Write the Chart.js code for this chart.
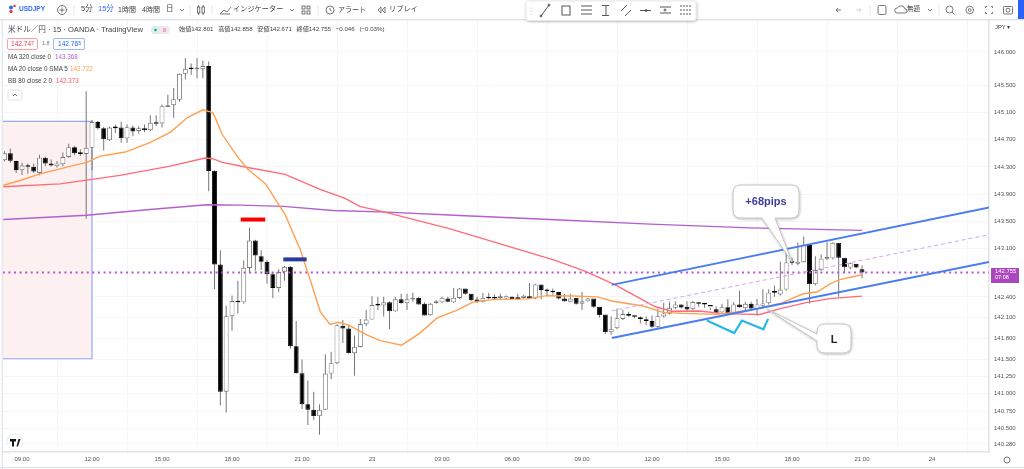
<!DOCTYPE html>
<html lang="ja"><head><meta charset="utf-8">
<script src="https://cdn.jsdelivr.net/npm/chart.js@4"></script>
<style>
html,body{margin:0;padding:0;background:#fff;width:1024px;height:469px;overflow:hidden}
body{font-family:"Liberation Sans","Noto Sans CJK JP",sans-serif;color:#333;position:relative}
#c{position:absolute;left:0;top:0}
.t{position:absolute;white-space:nowrap;line-height:1}
svg.o{position:absolute;left:0;top:0;pointer-events:none}
</style></head><body>
<canvas id="c" width="1024" height="469"></canvas>
<script>
// --- axis labels ---
const priceTicks=[146,145.5,145.1,144.7,144.3,143.9,143.5,143.1,142.4,142.1,141.8,141.5,141.25,141,140.75,140.5,140.28];
const timeTickIndex=[0,12,24,36,48,60,72,84,96,108,120,132,144,156];
const timeTickLabels=["09:00","12:00","15:00","18:00","21:00","23","03:00","06:00","09:00","12:00","15:00","18:00","21:00","24"];
// --- 15 minute candles, first one is three bars before 09:00 ---
const firstBar=-3;
const opens=[144.40,144.50,144.385,144.25,144.32,144.30,144.21,144.435,144.35,144.31,
144.34,144.445,144.59,144.50,144.49,144.58,144.96,144.87,144.695,144.88,
144.88,144.72,144.88,144.83,144.87,144.84,144.95,144.94,145.185,145.21,
145.29,145.675,145.75,145.745,145.745,145.79,144.24,142.87,141.03,142.12,
142.34,142.32,142.82,143.22,142.99,142.91,142.73,142.53,142.765,142.835,
141.685,141.295,140.85,140.77,140.68,140.77,141.29,141.44,141.98,141.94,
141.585,141.675,142.005,142.07,142.28,142.275,142.32,142.19,142.365,142.31,
142.36,142.385,142.30,142.135,142.31,142.32,142.375,142.32,142.385,142.52,
142.445,142.36,142.33,142.385,142.38,142.385,142.375,142.40,142.395,142.385,
142.41,142.375,142.58,142.505,142.485,142.47,142.375,142.33,142.385,142.30,
142.335,142.375,142.255,142.145,141.89,141.945,142.08,142.15,142.13,142.10,
142.075,142.05,141.96,142.115,142.155,142.24,142.29,142.255,142.22,142.32,
142.305,142.28,142.22,142.175,142.25,142.16,142.29,142.235,142.30,142.225,
142.27,142.31,142.465,142.435,142.505,142.90,142.88,142.905,143.155,142.585,
142.79,142.955,142.96,143.185,142.97,142.825,142.88,142.801];
const highs=[144.53,144.57,144.39,144.36,144.35,144.35,144.48,144.45,144.41,144.385,
144.51,144.64,144.605,144.56,145.415,144.99,144.975,144.89,144.89,144.925,
144.965,144.925,144.91,144.90,144.925,145.06,145.06,145.22,145.365,145.465,
145.68,145.91,145.83,145.91,145.87,145.86,144.25,143.08,142.27,142.42,
142.635,142.93,143.41,143.23,143.08,142.935,142.76,142.80,142.85,142.85,
142.05,141.495,141.19,141.03,140.85,141.57,141.605,142.00,142.065,141.985,
141.84,142.08,142.21,142.41,142.40,142.40,142.335,142.40,142.445,142.445,
142.46,142.40,142.32,142.31,142.35,142.40,142.40,142.53,142.53,142.48,
142.385,142.40,142.455,142.455,142.43,142.445,142.42,142.41,142.445,142.43,
142.60,142.59,142.54,142.52,142.52,142.445,142.445,142.445,142.35,142.47,
142.385,142.27,142.16,141.995,142.115,142.23,142.21,142.185,142.125,142.115,
142.115,142.13,142.23,142.315,142.33,142.335,142.29,142.335,142.335,142.325,
142.30,142.24,142.26,142.30,142.365,142.32,142.49,142.33,142.33,142.37,
142.51,142.51,142.565,142.91,143.04,142.97,143.19,143.28,142.875,142.99,
143.015,143.195,143.195,143.055,142.92,142.90,142.858,142.858];
const lows=[144.38,144.36,144.21,144.18,144.20,144.21,144.175,144.31,144.31,144.29,
144.31,144.435,144.47,144.46,143.54,144.25,144.85,144.54,144.68,144.80,
144.655,144.655,144.75,144.79,144.81,144.83,144.90,144.88,145.185,145.025,
145.26,145.59,145.66,145.61,145.61,143.94,142.51,140.83,140.73,141.91,
142.16,142.30,142.745,142.78,142.79,142.59,142.385,142.47,142.635,141.65,
141.29,140.78,140.55,140.625,140.41,140.77,141.21,141.425,141.73,141.58,
141.26,141.67,141.975,142.07,142.21,142.115,141.935,142.185,142.30,142.21,
142.33,142.29,142.13,142.125,142.30,142.31,142.32,142.31,142.37,142.435,
142.34,142.31,142.32,142.36,142.355,142.365,142.365,142.36,142.36,142.375,
142.365,142.365,142.365,142.42,142.43,142.36,142.33,142.32,142.285,142.21,
142.33,142.24,142.10,141.86,141.85,141.93,142.065,142.11,142.09,142.015,
141.99,141.95,141.95,142.10,142.145,142.22,142.23,142.19,142.205,142.255,
142.24,142.21,142.16,142.16,142.145,142.145,142.24,142.21,142.21,142.13,
142.23,142.29,142.40,142.42,142.49,142.86,142.86,142.90,142.30,142.565,
142.78,142.935,142.945,142.40,142.745,142.80,142.815,142.671];
const closes=[144.50,144.39,144.25,144.32,144.30,144.23,144.435,144.35,144.32,144.35,
144.445,144.59,144.50,144.49,144.58,144.96,144.87,144.705,144.88,144.87,
144.72,144.885,144.82,144.87,144.84,144.95,144.935,145.195,145.21,145.30,
145.675,145.75,145.745,145.75,145.79,144.24,142.87,141.03,142.12,142.34,
142.32,142.82,143.22,143.00,142.91,142.73,142.53,142.76,142.835,141.685,
141.295,140.85,140.77,140.68,140.77,141.29,141.44,141.99,141.94,141.585,
141.675,142.005,142.07,142.28,142.275,142.32,142.19,142.365,142.31,142.365,
142.385,142.29,142.13,142.30,142.335,142.385,142.33,142.385,142.52,142.445,
142.35,142.32,142.385,142.38,142.375,142.39,142.41,142.37,142.37,142.415,
142.375,142.58,142.50,142.485,142.465,142.375,142.335,142.375,142.30,142.335,
142.375,142.255,142.135,141.89,141.935,142.09,142.15,142.125,142.11,142.08,
142.05,141.965,142.12,142.16,142.24,142.29,142.245,142.215,142.325,142.30,
142.29,142.26,142.17,142.25,142.155,142.29,142.25,142.30,142.23,142.29,
142.305,142.46,142.46,142.505,142.90,142.895,142.91,143.155,142.585,142.79,
142.955,142.96,143.185,142.97,142.83,142.89,142.825,142.755];
// --- indicators ---
const ma320Index=[-3.2,11.1,21.9,31.7,37.4,44.8,53.3,62.6,75,90.5,107.7,124.8,144];
const ma320Value=[143.527,143.59,143.674,143.743,143.738,143.72,143.66,143.635,143.586,143.527,143.46,143.405,143.368];
const ma20Index=[-3.2,-0.3,3.1,8.2,11.1,13.4,17.7,21.9,25.4,28.3,31,32.7,33.1,34.3,36.9,38.7,41.7,45.1,47.7,49.9,51.1,52.8,54.2,55.9,59.1,61.4,65.1,68.2,71.1,74.6,77.3,80.7,86.6,90,94.5,98.6,101.3,106.5,109.9,113.3,119.1,121.9,126,130,133.9,136.3,138.5,140.2,144];
const ma20Value=[144.03,144.10,144.197,144.307,144.366,144.459,144.518,144.656,144.808,145.024,145.142,145.10,145.03,144.78,144.454,144.263,144.057,143.60,143.087,142.517,142.19,142.0,142.032,141.994,141.85,141.765,141.70,141.875,142.09,142.207,142.323,142.36,142.37,142.417,142.413,142.40,142.336,142.267,142.175,142.16,142.146,142.175,142.225,142.303,142.445,142.47,142.588,142.65,142.722];
const bbIndex=[-3.2,6.5,11.1,16.8,25.4,31.4,32.7,34.3,38.7,45.1,51.1,55.4,57.9,62.2,73.4,91.4,96.5,101.7,108.5,111.4,116.2,119.7,123.6,126.5,130,134.6,138.5,144];
const bbValue=[144.008,144.05,144.105,144.175,144.31,144.43,144.42,144.366,144.29,144.19,143.97,143.836,143.72,143.635,143.39,142.93,142.775,142.575,142.26,142.19,142.195,142.16,142.15,142.145,142.23,142.32,142.375,142.41];
// --- drawn objects ---
const lastPrice=142.755;
const channelIndex=[101.1,165.8];
const channelUpper=[142.574,143.704];
const channelMiddle=[142.196,143.306];
const channelLower=[141.804,142.906];
const redMarkIndex=[37.5,41.7],redMarkValue=[143.527,143.527];
const blueMarkIndex=[44.8,48.8],blueMarkValue=[142.945,142.945];
const zigzagIndex=[117.4,122.1,123.4,127.1,127.9];
const zigzagValue=[142.056,141.875,142.056,141.93,142.08];
const boxIndex=[-3.3,12];
const boxValue=[144.97,141.504];

const xy=(a,b)=>a.map((v,i)=>({x:v,y:b[i]}));
const line=(a,b,color,width,order,extra)=>Object.assign({type:'line',data:xy(a,b),borderColor:color,borderWidth:width,pointRadius:0,tension:0,order,borderCapStyle:'butt',parsing:true},extra||{});
const wicks=opens.map((o,i)=>({x:firstBar+i,y:[lows[i],highs[i]]}));
const bodies=opens.map((o,i)=>({x:firstBar+i,y:[Math.min(o,closes[i]),Math.max(o,closes[i])]}));
const isUp=opens.map((o,i)=>closes[i]>o);

const boxPlugin={id:'box',beforeDatasetsDraw(ch){
  const {ctx,scales:{x,y}}=ch;
  const l=x.getPixelForValue(boxIndex[0]),r=x.getPixelForValue(boxIndex[1]);
  const t=y.getPixelForValue(boxValue[0]),b=y.getPixelForValue(boxValue[1]);
  ctx.save();ctx.fillStyle='#fdf0f0';ctx.fillRect(l,t,r-l,b-t);
  ctx.strokeStyle='#93aaf7';ctx.lineWidth=1.2;ctx.beginPath();ctx.moveTo(l,t);ctx.lineTo(r,t);ctx.lineTo(r,b);ctx.lineTo(l,b);ctx.stroke();ctx.restore();
}};

new Chart(document.getElementById('c'),{
 type:'bar',
 data:{datasets:[
  line(channelIndex,channelUpper,'#4a7cf5',2,1),
  line(channelIndex,channelLower,'#4a7cf5',2,1),
  line(channelIndex,channelMiddle,'#cda8e8',1,1,{borderDash:[4,3]}),
  line(zigzagIndex,zigzagValue,'#29b6e8',2.2,1),
  line(redMarkIndex,redMarkValue,'#ff0000',4,1),
  line(blueMarkIndex,blueMarkValue,'#2b3a9c',4,1),
  line(ma20Index,ma20Value,'#ff9f50',1.4,3),
  line(bbIndex,bbValue,'#ff6b78',1.4,4),
  line(ma320Index,ma320Value,'#b35fd0',1.4,5),
  line([-3.3,165.8],[lastPrice,lastPrice],'#b455cf',2,6,{borderDash:[2,3.6]}),
  {data:bodies,order:8,barThickness:4.9,grouped:false,minBarLength:1.6,inflateAmount:0,borderSkipped:false,borderWidth:0.9,
   backgroundColor:isUp.map(u=>u?'#ffffff':'#000000'),borderColor:isUp.map(u=>u?'#777777':'#000000')},
  {data:wicks,order:9,barThickness:1,grouped:false,inflateAmount:0,borderSkipped:false,borderWidth:0,backgroundColor:'#777777'}
 ]},
 options:{
  responsive:false,animation:false,
  layout:{padding:{top:20,left:3,right:0,bottom:0}},
  plugins:{legend:{display:false},tooltip:{enabled:false}},
  scales:{
   x:{type:'linear',min:-3.26,max:165.77,offset:false,
      afterFit(s){s.height=17},
      afterBuildTicks(s){s.ticks=timeTickIndex.map(v=>({value:v}))},
      grid:{color:'#f6f6f8',lineWidth:1,drawTicks:false},border:{color:'#e0e3eb',width:1.5},
      ticks:{autoSkip:false,maxRotation:0,minRotation:0,padding:4,color:'#555',font:{size:6,family:'"Liberation Sans"'},
        callback(v){const k=timeTickIndex.indexOf(v);return k<0?'':timeTickLabels[k]}}},
   y:{type:'logarithmic',position:'right',min:140.165,max:146.477,
      afterFit(s){s.width=35},
      afterBuildTicks(s){s.ticks=priceTicks.map(v=>({value:v}))},
      grid:{color:'#f6f6f8',lineWidth:1,drawTicks:false},border:{color:'#e0e3eb',width:1.5},
      ticks:{autoSkip:false,padding:5,color:'#555',font:{size:6,family:'"Liberation Sans"'},
        callback(v){return Number(v).toFixed(3)}}}
  }
 },
 plugins:[boxPlugin]
});

// --- chrome text ---
const T=(x,y,s,size,color,extra)=>{const d=document.createElement('div');d.className='t';d.innerHTML=s;d.style.cssText=`left:${x}px;top:${y-size/2-0.5}px;font-size:${size}px;color:${color||'#444'};${extra||''}`;document.body.appendChild(d);return d};
T(19,9.5,'USDJPY',6.5,'#2f6bf0','font-weight:bold');
T(81,9.5,'5分',7.5,'#444');T(98,9.5,'15分',7.5,'#2f6bf0');T(118,9.5,'1時間',7,'#444');T(142,9.5,'4時間',7,'#444');T(166,9.5,'日',7.5,'#444');
T(233,9.5,'インジケーター',7.2,'#444');T(338,9.5,'アラート',7,'#444');T(389,9.5,'リプレイ',7.2,'#444');T(907,9.5,'無題',6.5,'#444');
T(8,30,'米ドル／円 · 15 · OANDA · TradingView',7.6,'#444');
T(179,29.5,'始値142.801 高値142.858 安値142.671 終値142.755 −0.046 (−0.03%)',6.15,'#444','word-spacing:3px');
T(11,44.5,'142.74<span style="font-size:5px;vertical-align:1px">7</span>',6.6,'#f23645');T(42,44.5,'1.8',5.5,'#777');T(58,44.5,'142.76<span style="font-size:5px;vertical-align:1px">5</span>',6.6,'#2962ff');
T(8,58,'MA 320 close 0',6.3,'#444');T(55,58,'143.368',6.3,'#b35fd0');
T(8,70,'MA 20 close 0 SMA 5',6.3,'#444');T(70,70,'142.722',6.3,'#ff9f50');
T(8,82,'BB 80 close 2 0',6.3,'#444');T(56,82,'142.373',6.3,'#f5596a');
T(995,28,'JPY ▾',5.8,'#444');
T(995,272.5,'142.755',5.9,'#fff');T(995,278.5,'07:08',5.5,'#fff');
</script>
<div style="position:absolute;left:990.5px;top:267.5px;width:28px;height:15px;background:#ab47bc"></div>
<svg class="o" width="1024" height="469" viewBox="0 0 1024 469" style="z-index:1">
 <defs><filter id="sh" x="-30%" y="-30%" width="160%" height="160%"><feDropShadow dx="0.5" dy="0.8" stdDeviation="1" flood-color="#000" flood-opacity=".3"/></filter></defs>
 <!-- frame -->
 <rect x="0" y="0" width="1024" height="19" fill="#fff"/>
 <rect x="0" y="19" width="1024" height="1.4" fill="#e0e3eb"/>
 <rect x="1.6" y="20" width="1.2" height="449" fill="#e0e3eb"/>
 <rect x="0" y="467" width="1024" height="1.2" fill="#e0e3eb"/>
 <rect x="1018" y="0" width="6" height="19" fill="#2962ff"/>
 <!-- logo + top icons -->
 <circle cx="11" cy="7.5" r="2" fill="#2f6bf0"/><circle cx="14.5" cy="6" r="1.3" fill="#e0414f"/><circle cx="11" cy="11.5" r="1.7" fill="#e0414f"/>
 <g fill="none" stroke="#555" stroke-width=".8">
  <circle cx="62" cy="10" r="4.5"/><path d="M59.5 10h5M62 7.5v5"/>
  <path d="M180 9l2 2 2-2"/><path d="M290 9l2 2 2-2"/><path d="M928 9l2 2 2-2"/>
  <rect x="197.5" y="7" width="2.3" height="6"/><rect x="202" y="7" width="2.3" height="6"/><path d="M198.6 5v2M198.6 13v2M203.1 5v2M203.1 13v2"/>
  <path d="M220 14l4-4 3 2 4-5M220 14h10"/>
  <rect x="302" y="6" width="3" height="3"/><rect x="307" y="6" width="3" height="3"/><rect x="302" y="11" width="3" height="3"/><rect x="307" y="11" width="3" height="3"/>
  <circle cx="330" cy="10" r="4"/><path d="M330 8v2l1.5 1"/>
  <path d="M381 7l-3 3 3 3zM385 7l-3 3 3 3z"/>
  <path d="M836 10l2-2M836 10l2 2M836 10h5"/><path d="M861 10l-2-2M861 10l-2 2M861 10h-5" stroke="#ccc"/>
  <rect x="878" y="5.5" width="8" height="9" rx="1.5"/>
  <path d="M897 13a2.5 2.5 0 0 1 .5-5 4 4 0 0 1 7.5 1 2 2 0 0 1 0 4z"/>
  <circle cx="949.5" cy="9.5" r="3.5"/><path d="M952 12l2.5 2.5"/>
  <circle cx="969.7" cy="10" r="3.8"/><circle cx="969.7" cy="10" r="1.4"/>
  <path d="M985.5 8V6.5H987M991 6.5h1.5V8M992.5 12v1.5H991M987 13.5h-1.5V12"/>
  <rect x="1003.5" y="6.5" width="9" height="7.5" rx="1"/><circle cx="1008" cy="10.2" r="2"/>
  <path d="M74 5v10M190 5v10M212 5v10M318 5v10M870 5v10M939 5v10" stroke="#e0e3eb"/>
 </g>
 <!-- drawing toolbar -->
 <rect x="526" y="1" width="170" height="19.5" rx="2.5" fill="#fff" stroke="#e8e8ee" filter="url(#sh)"/>
 <g fill="none" stroke="#444" stroke-width=".9">
  <path d="M541 16l8-11"/><circle cx="541" cy="16" r="1"/><circle cx="549" cy="5" r="1"/>
  <rect x="562" y="6" width="8" height="9"/>
  <path d="M581 6h11M581 10h11M581 14h11"/>
  <path d="M606 6v9M602 5.500h7M602 15.500h7"/>
  <path d="M621 11l6-6M625 16l6-6"/>
  <path d="M640 10.500h11"/><circle cx="646" cy="10.500" r="1"/>
  <path d="M660 7h11M660 13h11"/><circle cx="665" cy="10" r="1"/>
  <path d="M680 6h11M680 10h11M680 14h11" stroke-dasharray="2 1"/>
 </g>
 <g fill="#ccc"><circle cx="530" cy="8" r=".6"/><circle cx="532" cy="8" r=".6"/><circle cx="530" cy="11" r=".6"/><circle cx="532" cy="11" r=".6"/><circle cx="530" cy="14" r=".6"/><circle cx="532" cy="14" r=".6"/></g>
 <!-- header widgets -->
 <rect x="151" y="26" width="19" height="8" rx="4" fill="#f3e6ee"/><rect x="151" y="26" width="9" height="8" rx="4" fill="#d9f0ea"/>
 <circle cx="155.500" cy="30" r="1.2" fill="#089981"/><path d="M163 29h3M163 31h3" stroke="#ea4c89" stroke-width=".8"/>
 <rect x="7.500" y="38.500" width="30" height="11" rx="1.5" fill="#fff" stroke="#f7a0a8"/>
 <rect x="53.500" y="38.500" width="31" height="11" rx="1.5" fill="#fff" stroke="#9db6fb"/>
 <rect x="8" y="90" width="14" height="10" rx="1.500" fill="#fff" stroke="#e0e3eb"/><path d="M13 96l2-2 2 2" fill="none" stroke="#444" stroke-width=".8"/>
 <!-- tv badge and axis gear -->
 <circle cx="14.800" cy="442" r="8" fill="#fff" stroke="#eee"/><path d="M10 439h6v2.500h-2v5h-2v-5h-2zM16.500 446.500l2-7.500h2l-2.500 7.500z" fill="#131722"/>
 <circle cx="1007" cy="460" r="3" fill="none" stroke="#555" stroke-width=".8"/>
 <!-- callouts -->
 <path filter="url(#sh)" d="M741 185H791Q799 185 799 193V210Q799 218 791 218H775L792 262 762 218H741Q733 218 733 210V193Q733 185 741 185Z" fill="#fff" stroke="#c4c4c4" stroke-width="1"/>
 <text x="766" y="205" text-anchor="middle" font-family="Liberation Sans" font-weight="bold" font-size="11" fill="#3d3f9e">+68pips</text>
 <path filter="url(#sh)" d="M825 324H843Q851 324 851 332V345Q851 353 843 353H825Q817 353 817 345V341L767 309 817 334V332Q817 324 825 324Z" fill="#fff" stroke="#c4c4c4" stroke-width="1"/>
 <text x="834" y="342.500" text-anchor="middle" font-family="Liberation Sans" font-weight="bold" font-size="11" fill="#222">L</text>
</svg>
<script>
document.querySelectorAll('.t').forEach(d=>d.style.zIndex=3);
</script>
</body></html>
